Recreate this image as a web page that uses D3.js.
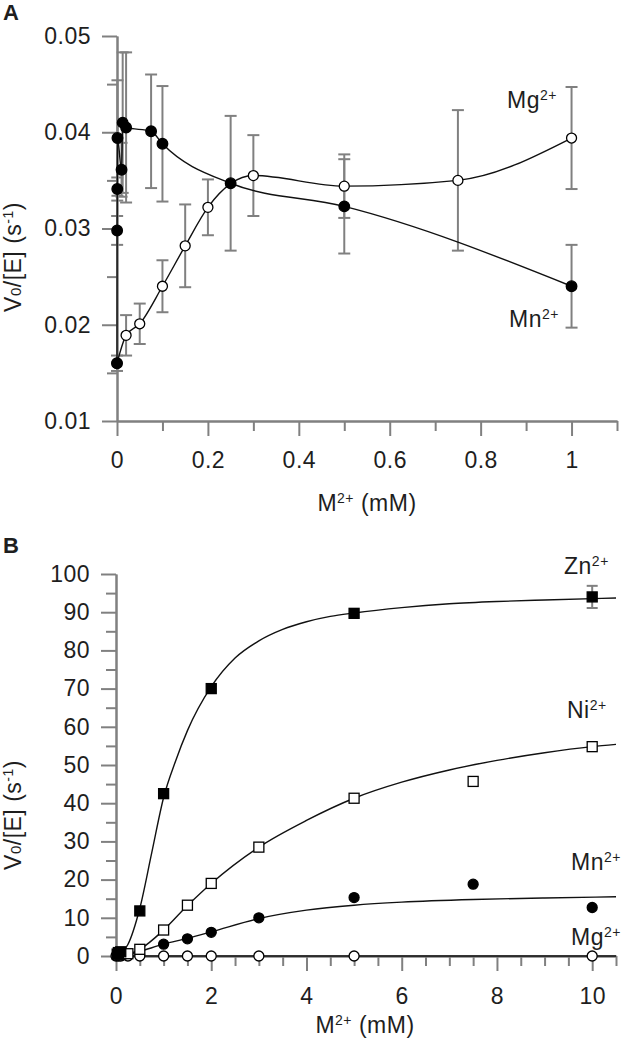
<!DOCTYPE html>
<html><head><meta charset="utf-8">
<script src="https://cdn.jsdelivr.net/npm/d3@7/dist/d3.min.js"></script>
<style>
body{margin:0;background:#fff}
text{font-family:"Liberation Sans",Arial,sans-serif;fill:#1e1e1e}
</style>
</head><body>
<svg id="chart" width="621" height="1050"></svg>
<script>
// ---------- Panel A data ----------
const aMnX   = [0, 0.0003, 0.0006, 0.001, 0.01, 0.0125, 0.02, 0.075, 0.1, 0.25, 0.5, 1];
const aMnY   = [0.016, 0.0298, 0.0341, 0.0394, 0.0361, 0.0410, 0.0405, 0.0401, 0.0388, 0.0347, 0.0323, 0.0240];
const aMnErr = [0.0008, 0.0015, 0.0012, 0.006, 0.0028, 0.0073, 0.0078, 0.0059, 0.006, 0.007, 0.0049, 0.0043];
const aMgX   = [0, 0.02, 0.05, 0.1, 0.15, 0.2, 0.3, 0.5, 0.75, 1];
const aMgY   = [0.016, 0.0189, 0.0201, 0.0240, 0.0282, 0.0322, 0.0355, 0.0344, 0.0350, 0.0394];
const aMgErr = [0, 0.0021, 0.0021, 0.0027, 0.0043, 0.0029, 0.0042, 0.0033, 0.0073, 0.0053];
const aXTicks = [0, 0.2, 0.4, 0.6, 0.8, 1];
const aXTickLabels = ["0", "0.2", "0.4", "0.6", "0.8", "1"];
const aXMinor = [0.1, 0.3, 0.5, 0.7, 0.9, 1.1];
const aYTicks = [0.01, 0.02, 0.03, 0.04, 0.05];
const aYTickLabels = ["0.01", "0.02", "0.03", "0.04", "0.05"];
const aYMinor = [0.015, 0.025, 0.035, 0.045];

// ---------- Panel B data ----------
const bZnX = [0.025, 0.05, 0.1, 0.5, 1, 2, 5, 10];
const bZnY = [0.5, 0.9, 1.1, 11.8, 42.5, 70, 89.7, 94];
const bZnErr = [0, 0, 0, 0, 0, 0, 0, 2.9];
const bNiX = [0.05, 0.1, 0.25, 0.5, 1, 1.5, 2, 3, 5, 7.5, 10];
const bNiY = [0.3, 0.5, 0.6, 1.75, 6.8, 13.3, 19, 28.5, 41.3, 45.7, 54.8];
const bMnX = [0.025, 0.05, 0.1, 1, 1.5, 2, 3, 5, 7.5, 10];
const bMnY = [0.4, 0.7, 0.9, 3.1, 4.5, 6.2, 10, 15.3, 18.8, 12.7];
const bMgX = [0, 0.05, 0.1, 0.25, 0.5, 1, 1.5, 2, 3, 5, 10];
const bMgY = [0, 0, 0, 0, 0, 0, 0, 0, 0, 0, 0];
// fitted curves
const bZnFitX = [0.1, 0.25, 0.5, 0.75, 1, 1.25, 1.5, 2, 2.5, 3, 3.5, 4, 4.5, 5, 6, 7, 8, 9, 10.5];
const bZnFitY = [0.5, 3, 12.5, 27, 41.5, 51, 59, 70.5, 78, 82.5, 85.5, 87.5, 88.9, 89.8, 91.2, 92.2, 92.8, 93.2, 93.7];
const bNiFitX = [0.2, 0.5, 1, 1.5, 2, 3, 4, 5, 6, 7, 8, 9, 10, 10.5];
const bNiFitY = [0.2, 1.75, 6.8, 13.2, 19, 28.5, 35.5, 41.3, 45.5, 48.7, 51.2, 53.2, 54.8, 55.4];
const bMnFitX = [0.2, 0.5, 1, 1.5, 2, 3, 4, 5, 6, 7.5, 9, 10.5];
const bMnFitY = [0.2, 1.2, 3.1, 4.6, 6.3, 9.8, 12, 13.3, 14.1, 14.8, 15.2, 15.5];
const bMgFitX = [0, 10.5];
const bMgFitY = [0, 0];
const bXTicks = [0, 2, 4, 6, 8, 10];
const bXTickLabels = ["0", "2", "4", "6", "8", "10"];
const bXMinor = [0.5,1,1.5,2.5,3,3.5,4.5,5,5.5,6.5,7,7.5,8.5,9,9.5,10.5];
const bYTicks = [0,10,20,30,40,50,60,70,80,90,100];
const bYMinor = [5,15,25,35,45,55,65,75,85,95];

const AXIS = "#808080", FS = 23, LS = 0.5;
const svg = d3.select("#chart");

function styleAxis(sel){
  sel.selectAll(".domain").attr("stroke", AXIS).attr("stroke-width", 2);
  sel.selectAll(".tick line").attr("stroke", AXIS).attr("stroke-width", 2);
  sel.selectAll(".tick text").attr("font-size", FS).attr("fill", "#1e1e1e").attr("letter-spacing", LS)
     .attr("font-family", '"Liberation Sans",Arial,sans-serif');
}

function axes(g, x, y, o){
  const y0 = y.range()[0], x0 = x.range()[0];
  g.append("g").attr("transform", `translate(0,${y0})`)
    .call(d3.axisBottom(x).tickValues(o.xMinor).tickSize(10).tickSizeOuter(0).tickFormat(""))
    .call(styleAxis);
  g.append("g").attr("transform", `translate(0,${y0})`)
    .call(d3.axisBottom(x).tickValues(o.xTicks).tickSize(15).tickPadding(o.xPad).tickSizeOuter(0)
      .tickFormat((d,i)=>o.xLabels[i]))
    .call(styleAxis);
  g.append("g").attr("transform", `translate(${x0},0)`)
    .call(d3.axisLeft(y).tickValues(o.yMinor).tickSize(10).tickSizeOuter(0).tickFormat(""))
    .call(styleAxis);
  g.append("g").attr("transform", `translate(${x0},0)`)
    .call(d3.axisLeft(y).tickValues(o.yTicks).tickSize(15).tickPadding(11).tickSizeOuter(0)
      .tickFormat((d,i)=>o.yLabels[i]))
    .call(styleAxis);
}

function supLabel(g, x, y, base, sup){
  const t = g.append("text").attr("x", x).attr("y", y).attr("font-size", FS).attr("letter-spacing", LS);
  t.append("tspan").text(base);
  t.append("tspan").attr("font-size", 14).attr("dy", -8).text(sup);
}

function xTitle(g, cx, y){
  const t = g.append("text").attr("x", cx).attr("y", y).attr("font-size", FS).attr("letter-spacing", LS)
    .attr("text-anchor","middle");
  t.append("tspan").text("M");
  t.append("tspan").attr("font-size", 14).attr("dy", -8).text("2+");
  t.append("tspan").attr("dy", 8).text(" (mM)");
}
function yTitle(g, x, cy){
  const t = g.append("text").attr("transform", `translate(${x},${cy}) rotate(-90)`)
    .attr("font-size", FS).attr("letter-spacing", LS).attr("text-anchor","middle");
  t.append("tspan").text("V");
  t.append("tspan").attr("font-size", 15).text("0");
  t.append("tspan").text("/[E] (s");
  t.append("tspan").attr("font-size", 14).attr("dy", -8).text("-1");
  t.append("tspan").attr("dy", 8).text(")");
}

function errBars(g, x, y, xs, ys, es, cap){
  xs.forEach((xv,i)=>{
    if(!es[i]) return;
    const px = x(xv), t = y(ys[i]+es[i]), b = y(ys[i]-es[i]);
    g.append("line").attr("x1",px).attr("x2",px).attr("y1",t).attr("y2",b).attr("stroke",AXIS).attr("stroke-width",2);
    [t,b].forEach(py=> g.append("line").attr("x1",px-cap).attr("x2",px+cap).attr("y1",py).attr("y2",py)
      .attr("stroke",AXIS).attr("stroke-width",2));
  });
}
function curve(g, x, y, xs, ys){
  const pts = xs.map((v,i)=>[x(v), y(ys[i])]);
  g.append("path").attr("d", d3.line().curve(d3.curveMonotoneX)(pts))
    .attr("fill","none").attr("stroke","#111").attr("stroke-width",1.4);
}
function circles(g, x, y, xs, ys, filled, r){
  xs.forEach((v,i)=> g.append("circle").attr("cx",x(v)).attr("cy",y(ys[i])).attr("r",r)
    .attr("fill", filled? "#000":"#fff").attr("stroke","#000").attr("stroke-width",1.3));
}
function squares(g, x, y, xs, ys, filled, s){
  xs.forEach((v,i)=> g.append("rect").attr("x",x(v)-s/2).attr("y",y(ys[i])-s/2).attr("width",s).attr("height",s)
    .attr("fill", filled? "#000":"#fff").attr("stroke","#000").attr("stroke-width",1.3));
}

// ---------- Panel A ----------
const gA = svg.append("g");
const xA = d3.scaleLinear().domain([0, 1.1]).range([117, 617]);
const yA = d3.scaleLinear().domain([0.01, 0.05]).range([421, 36]);
axes(gA, xA, yA, {xTicks:aXTicks, xLabels:aXTickLabels, xMinor:aXMinor, xPad:16,
  yTicks:aYTicks, yLabels:aYTickLabels, yMinor:aYMinor});
errBars(gA, xA, yA, aMgX, aMgY, aMgErr, 6);
errBars(gA, xA, yA, aMnX, aMnY, aMnErr, 6);
curve(gA, xA, yA, aMgX, aMgY);
curve(gA, xA, yA, aMnX, aMnY);
circles(gA, xA, yA, aMgX, aMgY, false, 5);
circles(gA, xA, yA, aMnX, aMnY, true, 5.3);
supLabel(gA, 507, 108, "Mg", "2+");
supLabel(gA, 509, 327, "Mn", "2+");
xTitle(gA, 367, 511);
yTitle(gA, 21, 257);
gA.append("text").attr("x",3).attr("y",20).attr("font-size",22).attr("font-weight","bold").text("A");

// ---------- Panel B ----------
const gB = svg.append("g");
const xB = d3.scaleLinear().domain([0, 10.5]).range([116, 616]);
const yB = d3.scaleLinear().domain([0, 100]).range([956, 574]);
axes(gB, xB, yB, {xTicks:bXTicks, xLabels:bXTickLabels, xMinor:bXMinor, xPad:17,
  yTicks:bYTicks, yLabels:bYTicks.map(String), yMinor:bYMinor});
curve(gB, xB, yB, bMgFitX, bMgFitY);
curve(gB, xB, yB, bMnFitX, bMnFitY);
curve(gB, xB, yB, bNiFitX, bNiFitY);
curve(gB, xB, yB, bZnFitX, bZnFitY);
errBars(gB, xB, yB, bZnX, bZnY, bZnErr, 5.5);
circles(gB, xB, yB, bMgX, bMgY, false, 5);
circles(gB, xB, yB, bMnX, bMnY, true, 5);
squares(gB, xB, yB, bNiX, bNiY, false, 10);
squares(gB, xB, yB, bZnX, bZnY, true, 10);
supLabel(gB, 564, 574, "Zn", "2+");
supLabel(gB, 567, 718, "Ni", "2+");
supLabel(gB, 571, 870, "Mn", "2+");
supLabel(gB, 571, 945, "Mg", "2+");
xTitle(gB, 365, 1033);
yTitle(gB, 21, 815);
gB.append("text").attr("x",3).attr("y",553).attr("font-size",22).attr("font-weight","bold").text("B");
</script>
</body></html>
